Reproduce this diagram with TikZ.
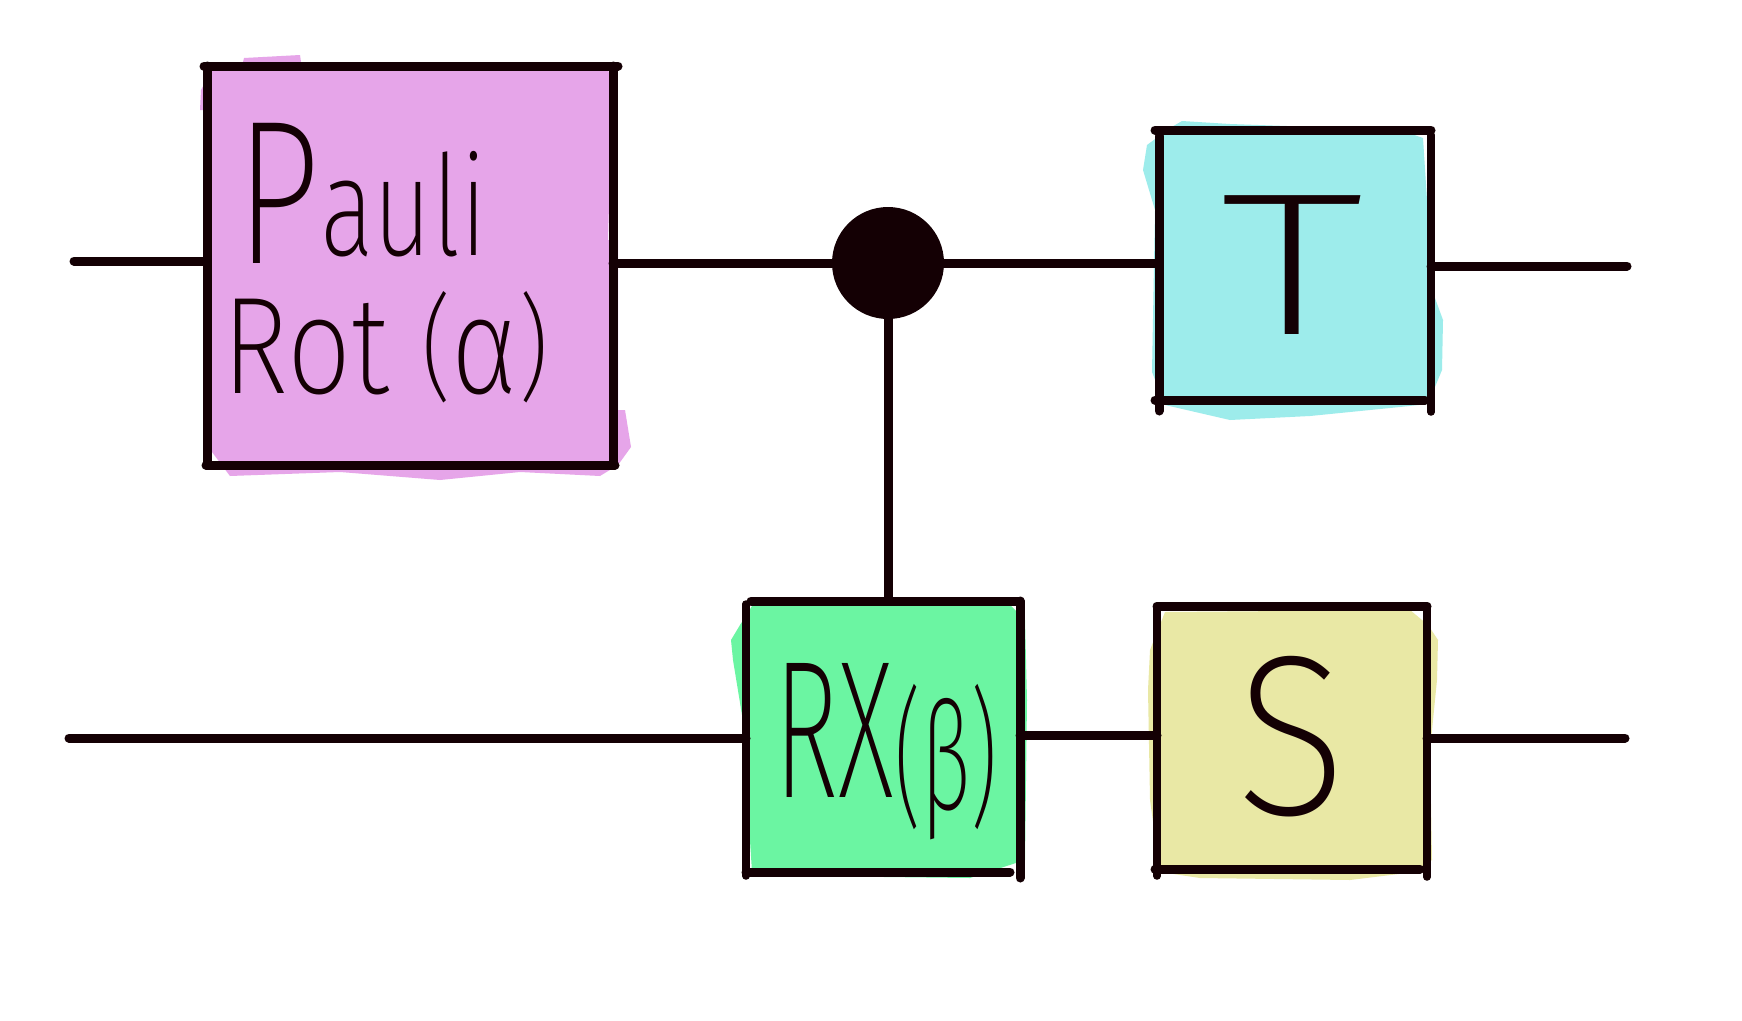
\documentclass[tikz,border=0pt]{standalone}
\usepackage{fontspec}
\usetikzlibrary{calc}
\setmainfont{Fira Sans ExtraLight}
\definecolor{ink}{HTML}{140004}
\definecolor{pinkfill}{HTML}{E6A5E9}
\definecolor{cyanfill}{HTML}{9DECEB}
\definecolor{greenfill}{HTML}{6BF5A2}
\definecolor{yellowfill}{HTML}{E9E8A5}
\newcommand{\fs}[1]{\fontsize{#1}{#1}\selectfont}
\tikzset{
  wire/.style={draw=ink,line width=9pt,line cap=round},
  edge/.style={draw=ink,line width=9pt,line cap=round},
  thinedge/.style={draw=ink,line width=7.5pt,line cap=round},
  gatebox/.style={rectangle,inner sep=0pt,outer sep=0pt},
  hand/.style={text=ink,anchor=base,inner sep=0pt,outer sep=0pt,transform shape},
}
\begin{document}
\begin{tikzpicture}[x=1pt,y=-1pt]
\useasboundingbox (0,0) rectangle (1742,1020);
\fill[white] (0,0) rectangle (1742,1020);
% colour washes
\fill[pinkfill] (212,70) -- (243,62) -- (244,58) -- (300,55) -- (301,62) -- (608,66) -- (612,100) -- (608,240) -- (618,240) -- (618,410) -- (625,410) -- (631,447) -- (618,465) -- (600,476) -- (520,472) -- (440,480) -- (340,472) -- (230,476) -- (212,452) -- (211,110) -- (200,110) -- (201,90) -- cycle;
\fill[cyanfill] (1170,128) -- (1182,121) -- (1230,124) -- (1400,130) -- (1423,138) -- (1427,200) -- (1432,290) -- (1443,320) -- (1442,370) -- (1428,404) -- (1400,407) -- (1310,416) -- (1230,420) -- (1165,405) -- (1152,372) -- (1155,210) -- (1143,170) -- (1147,145) -- cycle;
\fill[greenfill] (752,606) -- (1010,605) -- (1025,620) -- (1027,700) -- (1025,860) -- (970,878) -- (800,876) -- (752,872) -- (742,715) -- (733,660) -- (731,640) -- (740,625) -- cycle;
\fill[yellowfill] (1165,612) -- (1410,610) -- (1428,625) -- (1438,640) -- (1437,680) -- (1430,750) -- (1432,860) -- (1415,872) -- (1350,880) -- (1200,878) -- (1160,872) -- (1150,800) -- (1148,690) -- (1150,650) -- cycle;
% gates (named frames)
\node[gatebox,minimum width=406pt,minimum height=399pt] (pauli) at (410,265.5) {};
\node[gatebox,minimum width=272pt,minimum height=270pt] (tgate) at (1295,265) {};
\node[gatebox,minimum width=274pt,minimum height=271pt] (rx) at (883,736.5) {};
\node[gatebox,minimum width=270pt,minimum height=263pt] (sgate) at (1292,737.5) {};
\node[circle,fill=ink,inner sep=0pt,outer sep=0pt,minimum size=112pt] (ctrl) at (888,263) {};
% free wire ends
\coordinate (inA) at (74,261);
\coordinate (inB) at (69,738);
\coordinate (outA) at (1627,266);
\coordinate (outB) at (1625,738);
\coordinate (mid) at (0,735);
% frames
\draw[edge] ($(pauli.north west)+(-3,0)$) -- ($(pauli.north east)+(5,0)$);
\draw[edge] (pauli.north west) -- (pauli.south west);
\draw[edge] (pauli.north east) -- (pauli.south east);
\draw[edge] ($(pauli.south west)+(-1,0)$) -- ($(pauli.south east)+(2,0)$);
\draw[edge] ($(tgate.north west)+(-4,0)$) -- (tgate.north east);
\draw[edge] ($(tgate.north west)+(0,6)$) -- ($(tgate.south west)+(0,11)$);
\draw[thinedge] ($(tgate.north east)+(0,5)$) -- ($(tgate.south east)+(0,12)$);
\draw[edge] ($(tgate.south west)+(-4,0)$) -- ($(tgate.south east)+(-6,0)$);
\draw[edge] ($(rx.north west)+(5,0)$) -- (rx.north east);
\draw[thinedge] ($(rx.north west)+(0,3)$) -- ($(rx.south west)+(0,4)$);
\draw[edge] (rx.north east) -- ($(rx.south east)+(0,6)$);
\draw[edge] (rx.south west) -- ($(rx.south east)+(-10,0)$);
\draw[edge] (sgate.north west) -- (sgate.north east);
\draw[thinedge] (sgate.north west) -- ($(sgate.south west)+(0,7)$);
\draw[thinedge] (sgate.north east) -- ($(sgate.south east)+(0,8)$);
\draw[edge] ($(sgate.south west)+(-2,0)$) -- ($(sgate.south east)+(-7,0)$);
% connectors
\draw[wire] (inA) -- (inA -| pauli.west);
\draw[wire] (pauli.east |- ctrl) -- (ctrl);
\draw[wire] (ctrl) -- (tgate.west |- ctrl);
\draw[wire] (tgate.east |- outA) -- (outA);
\draw[wire] (inB) -- (inB -| rx.west);
\draw[wire] (rx.east |- mid) -- (sgate.west |- mid);
\draw[wire] (sgate.east |- outB) -- (outB);
\draw[wire] (ctrl) -- (ctrl |- rx.north);
% labels
\node[hand,xscale=.72] (lpauli) at (362,263) {\fs{205}P\raisebox{8pt}{\fs{140}auli}};
\node[hand,xscale=.82] (lrot) at (386,393) {\fs{138}Rot \raisebox{6pt}{\fs{115}(}α\raisebox{6pt}{\fs{115})}};
\node[hand,xscale=.56] (lrx) at (886,797) {\fs{196}RX\raisebox{-12pt}{\fs{150}(β)}};
\node[hand,xscale=1.45] (lt) at (1292,334) {\fs{203}T};
\node[hand,xscale=.9] (ls) at (1292,814) {\fs{228}S};
\end{tikzpicture}
\end{document}
